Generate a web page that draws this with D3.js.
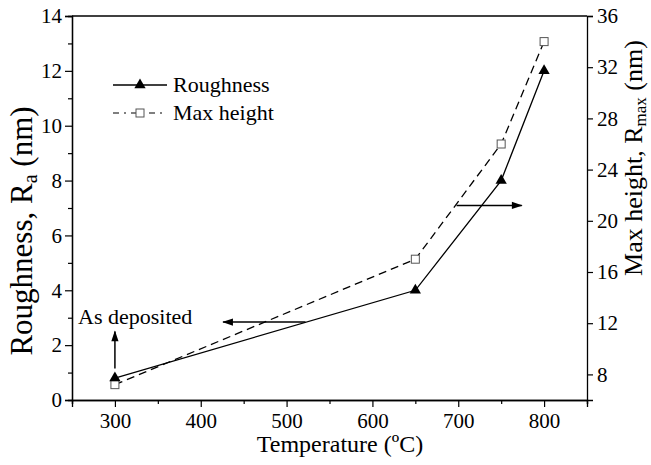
<!DOCTYPE html>
<html>
<head>
<meta charset="utf-8">
<script src="https://cdn.jsdelivr.net/npm/d3@7"></script>
<style>
  body { margin: 0; background: #fff; }
  text { font-family: "Liberation Serif", "Times New Roman", serif; fill: #000; }
</style>
</head>
<body>
<svg id="chart" width="651" height="465"></svg>
<script>
// data
const temps = [300, 650, 750, 800];
const roughness = [0.8, 4.0, 8.0, 12.0];     // Ra (nm), left axis
const maxHeight = [7.2, 17.0, 26.0, 34.0];   // Rmax (nm), right axis
const xTicks = [300, 400, 500, 600, 700, 800];
const yLeftTicks = [0, 2, 4, 6, 8, 10, 12, 14];
const yRightTicks = [8, 12, 16, 20, 24, 28, 32, 36];

const svg = d3.select("#chart");
const m = { left: 72, right: 587, top: 16, bottom: 400 };

const x = d3.scaleLinear().domain([250, 850]).range([m.left, m.right]);
const yL = d3.scaleLinear().domain([0, 14]).range([m.bottom, m.top]);
const yR = d3.scaleLinear().domain([6, 36]).range([m.bottom, m.top]);

// arrow head
svg.append("defs").append("marker")
  .attr("id", "head").attr("viewBox", "0 0 12 10")
  .attr("refX", 11).attr("refY", 5)
  .attr("markerWidth", 12).attr("markerHeight", 9)
  .attr("markerUnits", "userSpaceOnUse")
  .attr("orient", "auto")
  .append("path").attr("d", "M0,1 L12,5 L0,9 Z").attr("fill", "#000");

// axes
svg.append("g").attr("transform", `translate(0,${m.bottom})`)
  .call(d3.axisBottom(x).tickValues(xTicks).tickSize(7).tickPadding(6).tickFormat(d3.format("d")));
svg.append("g").attr("transform", `translate(0,${m.bottom})`)
  .call(d3.axisBottom(x).tickValues(d3.range(250, 851, 100)).tickSize(4).tickFormat(""));

svg.append("g").attr("transform", `translate(${m.left},0)`)
  .call(d3.axisLeft(yL).tickValues(yLeftTicks).tickSize(7).tickPadding(3));
svg.append("g").attr("transform", `translate(${m.left},0)`)
  .call(d3.axisLeft(yL).tickValues(d3.range(1, 14, 2)).tickSize(4).tickFormat(""));

svg.append("g").attr("transform", `translate(${m.right},0)`)
  .call(d3.axisRight(yR).tickValues(yRightTicks).tickSize(6).tickPadding(4));

svg.selectAll(".domain").attr("stroke", "#000").attr("stroke-width", 1.3);
svg.selectAll(".tick line").attr("stroke", "#000").attr("stroke-width", 1.2);
svg.selectAll(".tick text").attr("font-family", null).style("font-size", "21px");

// top frame
svg.append("line").attr("x1", m.left).attr("x2", m.right)
  .attr("y1", m.top).attr("y2", m.top).attr("stroke", "#000").attr("stroke-width", 1.3);

// axis titles
svg.append("text").attr("x", 340).attr("y", 452)
  .attr("text-anchor", "middle").style("font-size", "24px").text("Temperature (ºC)");

const tl = svg.append("text").attr("transform", "translate(32,231) rotate(-90)")
  .attr("text-anchor", "middle").style("font-size", "31px");
tl.append("tspan").text("Roughness, R");
tl.append("tspan").attr("baseline-shift", "-25%").style("font-size", "20px").text("a");
tl.append("tspan").text(" (nm)");

const tr = svg.append("text").attr("transform", "translate(642,158) rotate(-90)")
  .attr("text-anchor", "middle").style("font-size", "26px");
tr.append("tspan").text("Max height, R");
tr.append("tspan").attr("baseline-shift", "-25%").style("font-size", "17px").text("max");
tr.append("tspan").text(" (nm)");

// series lines
const rPts = temps.map((t, i) => [x(t), yL(roughness[i])]);
const hPts = temps.map((t, i) => [x(t), yR(maxHeight[i])]);

svg.append("path").attr("d", d3.line()(hPts)).attr("fill", "none")
  .attr("stroke", "#000").attr("stroke-width", 1.3).attr("stroke-dasharray", "8,5");
svg.append("path").attr("d", d3.line()(rPts)).attr("fill", "none")
  .attr("stroke", "#000").attr("stroke-width", 1.3);

const tri = d3.symbol().type(d3.symbolTriangle).size(55);
svg.selectAll(".sq").data(hPts).join("rect")
  .attr("x", d => d[0] - 4).attr("y", d => d[1] - 4).attr("width", 8).attr("height", 8)
  .attr("fill", "#fff").attr("stroke", "#555").attr("stroke-width", 1);
svg.selectAll(".tri").data(rPts).join("path")
  .attr("transform", d => `translate(${d[0]},${d[1]})`).attr("d", tri).attr("fill", "#000");

// legend
const lg = svg.append("g");
lg.append("line").attr("x1", 113).attr("x2", 167).attr("y1", 85).attr("y2", 85)
  .attr("stroke", "#000").attr("stroke-width", 1.3);
lg.append("path").attr("transform", "translate(140,85)").attr("d", tri).attr("fill", "#000");
lg.append("text").attr("x", 173).attr("y", 92).style("font-size", "22px").text("Roughness");
lg.append("line").attr("x1", 113).attr("x2", 167).attr("y1", 113).attr("y2", 113)
  .attr("stroke", "#000").attr("stroke-width", 1.2).attr("stroke-dasharray", "6,5,2,5");
lg.append("rect").attr("x", 136).attr("y", 109).attr("width", 8).attr("height", 8)
  .attr("fill", "#fff").attr("stroke", "#555");
lg.append("text").attr("x", 173).attr("y", 120).style("font-size", "22px").text("Max height");

// annotations, placed in data coordinates
function arrow(x1, y1, x2, y2) {
  svg.append("line").attr("x1", x1).attr("y1", y1).attr("x2", x2).attr("y2", y2)
    .attr("stroke", "#000").attr("stroke-width", 1.5).attr("marker-end", "url(#head)");
}
arrow(x(300), yL(1.15), x(300), yL(2.5));
arrow(x(522), yL(2.84), x(426), yL(2.84));
arrow(x(698), yR(21.2), x(774), yR(21.2));

svg.append("text").attr("x", x(257)).attr("y", yL(2.77)).style("font-size", "22px").text("As deposited");
</script>
</body>
</html>
